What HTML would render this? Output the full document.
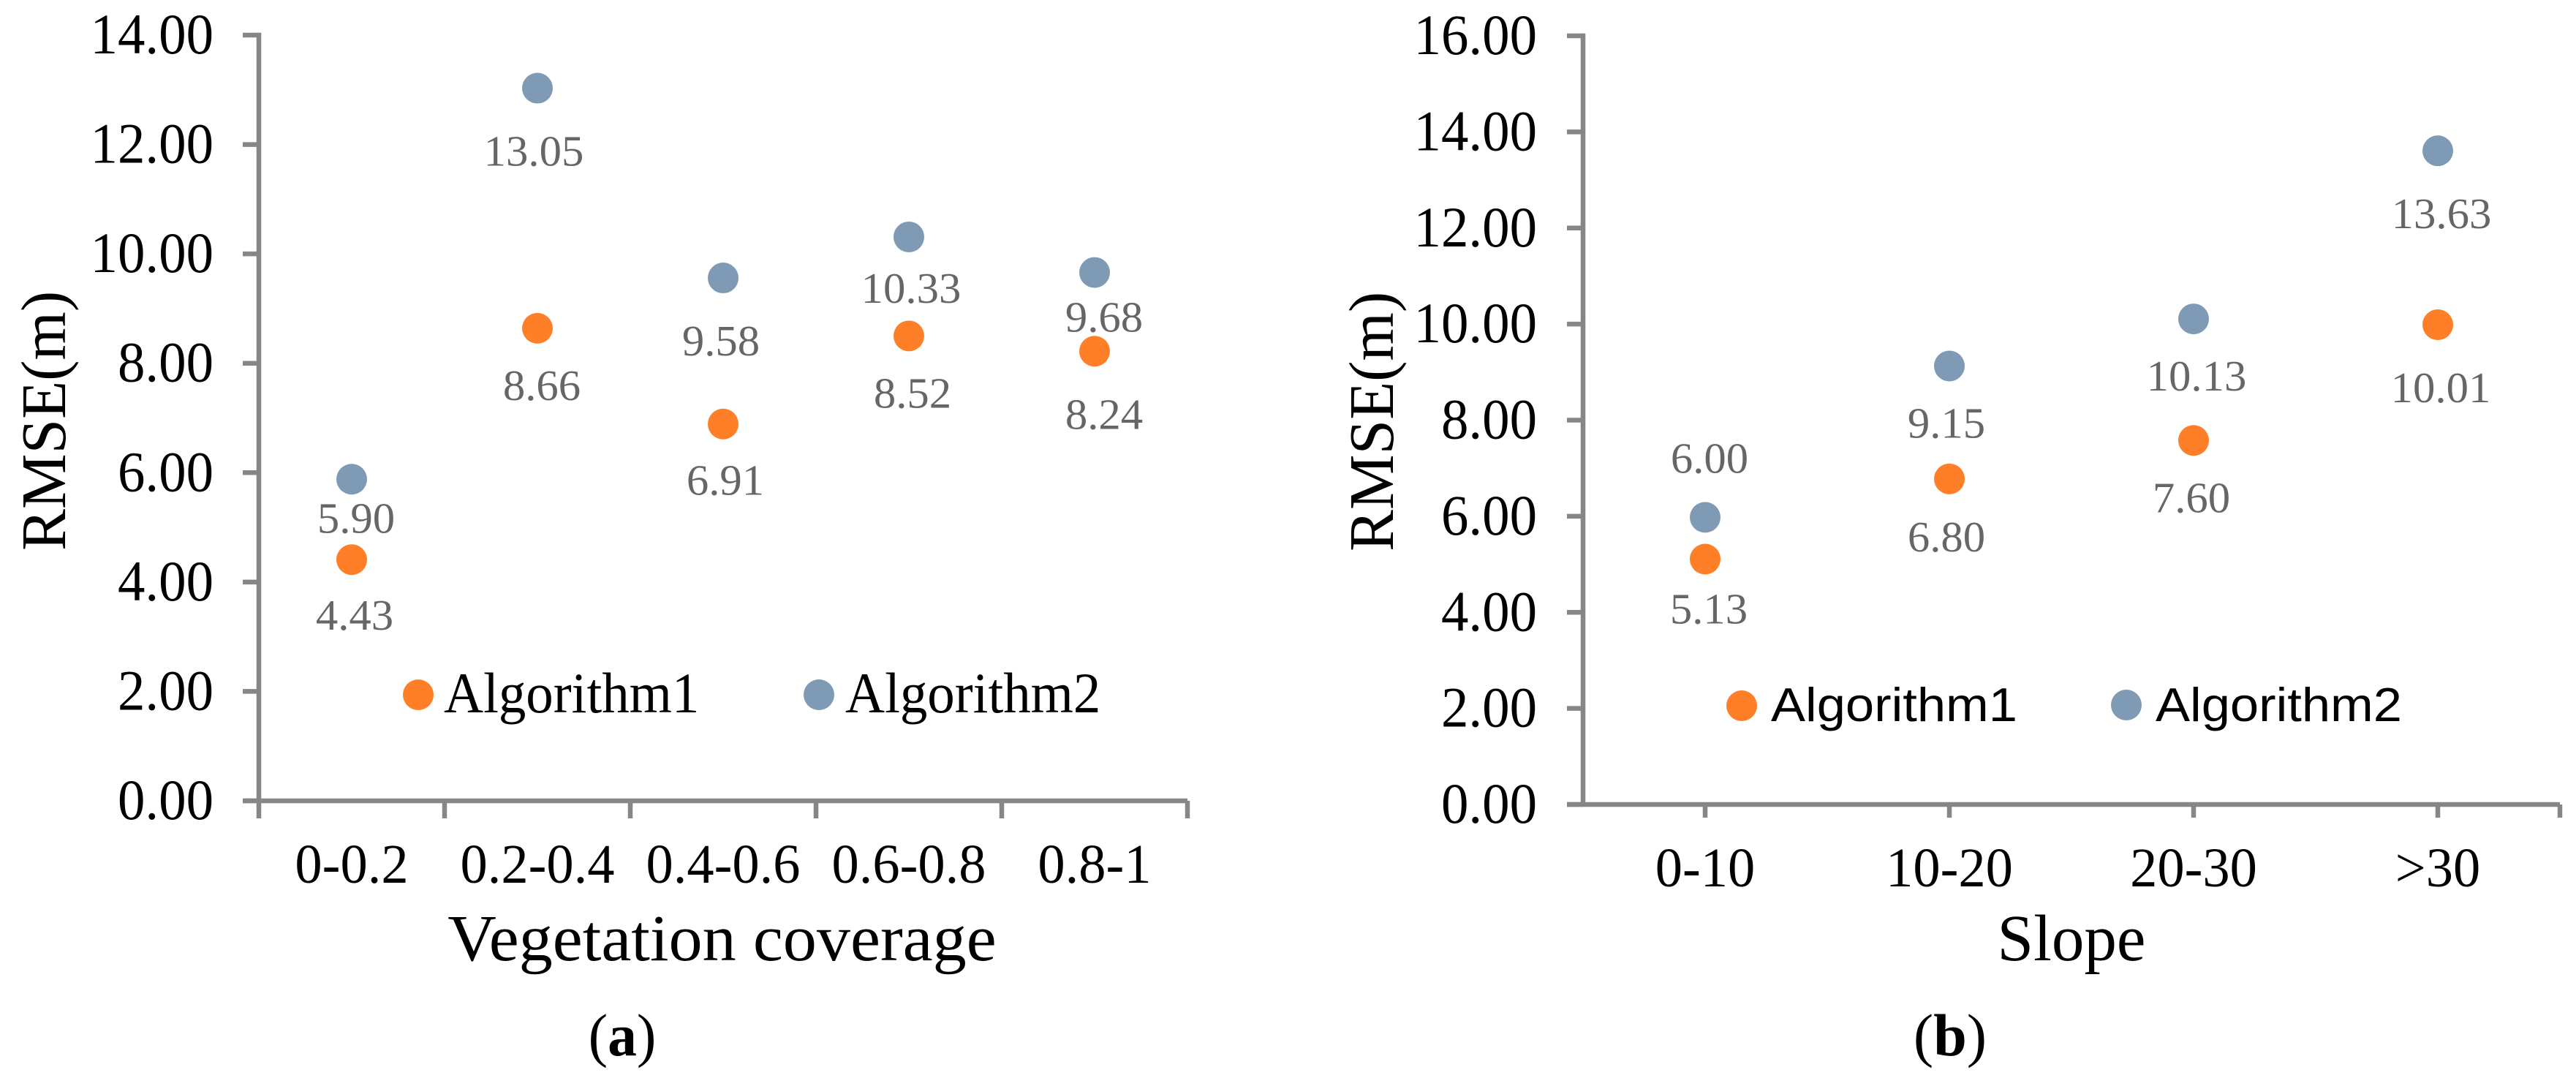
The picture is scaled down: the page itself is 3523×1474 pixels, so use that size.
<!DOCTYPE html>
<html lang="en">
<head>
<meta charset="utf-8">
<title>RMSE by vegetation coverage and slope</title>
<style>
html,body{margin:0;padding:0;background:#fff;}
svg{display:block;}
text{font-family:"Liberation Serif",serif;fill:#000;}
</style>
</head>
<body>
<svg id="figure" xmlns="http://www.w3.org/2000/svg" width="3523" height="1474" viewBox="0 0 3523 1474">
  <rect x="0" y="0" width="3523" height="1474" fill="#ffffff"/>
  <g id="panel-a">
    <text font-size="87" transform="translate(89,753) rotate(-90) scale(0.98,1)">RMSE(m)</text>
    <text font-size="90" text-anchor="middle" transform="translate(987.5,1313) scale(1.025,1)">Vegetation coverage</text>
    <text font-size="82" text-anchor="middle" transform="translate(851,1443) scale(0.97,1)">(<tspan font-weight="bold">a</tspan>)</text>
    <circle cx="572" cy="950" r="21" fill="#FE7F27"/>
    <text font-size="78" transform="translate(607,974) scale(0.96,1)">Algorithm1</text>
    <circle cx="1120" cy="950" r="21" fill="#7F9AB5"/>
    <text font-size="78" transform="translate(1156,974) scale(0.96,1)">Algorithm2</text>
  </g>
  <g id="panel-b">
    <text font-size="87" transform="translate(1905,754) rotate(-90) scale(0.98,1)">RMSE(m)</text>
    <text font-size="90" text-anchor="middle" transform="translate(2833,1313) scale(0.99,1)">Slope</text>
    <text font-size="82" text-anchor="middle" transform="translate(2667,1443)">(<tspan font-weight="bold">b</tspan>)</text>
    <circle cx="2382" cy="965" r="21" fill="#FE7F27"/>
    <text font-size="65" style="font-family:'Liberation Sans',sans-serif" transform="translate(2422,986) scale(1.085,1)">Algorithm1</text>
    <circle cx="2908" cy="964" r="21" fill="#7F9AB5"/>
    <text font-size="65" style="font-family:'Liberation Sans',sans-serif" transform="translate(2948,986) scale(1.085,1)">Algorithm2</text>
  </g>
</svg>
<script>
// ---- chart data ----
const vegetationCategories = ['0-0.2', '0.2-0.4', '0.4-0.6', '0.6-0.8', '0.8-1'];
const vegetationAlgorithm1 = [4.43, 8.66, 6.91, 8.52, 8.24];
const vegetationAlgorithm2 = [5.90, 13.05, 9.58, 10.33, 9.68];
const vegetationTickValues = [0, 2, 4, 6, 8, 10, 12, 14];

const slopeCategories = ['0-10', '10-20', '20-30', '>30'];
const slopeAlgorithm1 = [5.13, 6.80, 7.60, 10.01];
const slopeAlgorithm2 = [6.00, 9.15, 10.13, 13.63];
const slopeTickValues = [0, 2, 4, 6, 8, 10, 12, 14, 16];

// ---- layout (not data): hand-placed label nudges relative to each marker ----
const NUDGE_A1 = [[4, 96], [6, 98], [3, 97], [5, 98], [13, 106]];
const NUDGE_A2 = [[6, 73], [-5, 106], [-3, 106], [3, 90], [13, 81]];
const NUDGE_B1 = [[5, 88], [-4, 99], [-3, 98], [4, 106]];
const NUDGE_B2 = [[6, -61], [-4, 98], [4, 98], [5, 106]];

const NS = 'http://www.w3.org/2000/svg';
const AXIS_COLOR = '#868686';
const AXIS_WIDTH = 6.5;
const LABEL_COLOR = '#666666';
const ORANGE = '#FE7F27';
const BLUE = '#7F9AB5';
const MARKER_RADIUS = 21;
const MARKER_SHIFT = 1.5;

function svgEl(parent, tag) {
  const el = document.createElementNS(NS, tag);
  parent.appendChild(el);
  return el;
}

function makeLine(parent, x1, y1, x2, y2) {
  const el = svgEl(parent, 'line');
  el.setAttribute('x1', x1);
  el.setAttribute('y1', y1);
  el.setAttribute('x2', x2);
  el.setAttribute('y2', y2);
  el.setAttribute('stroke', AXIS_COLOR);
  el.setAttribute('stroke-width', AXIS_WIDTH);
  return el;
}

function makeText(parent, str, x, y, size, anchor, sx, color) {
  const el = svgEl(parent, 'text');
  el.textContent = str;
  el.setAttribute('font-size', size);
  el.setAttribute('text-anchor', anchor);
  el.setAttribute('transform', 'translate(' + x + ',' + y + ') scale(' + sx + ',1)');
  el.style.fill = color;
  return el;
}

function drawPanel(p) {
  const root = document.getElementById(p.id);
  const yMax = p.ticks[p.ticks.length - 1];
  const yScale = function (v) { return p.y0 - (v / yMax) * (p.y0 - p.yTop); };
  const band = (p.xRight - p.xAxis) / p.categories.length;
  const xScale = function (i) { return p.xAxis + (i + 0.5) * band; };

  // y axis
  const yAxis = makeLine(root, p.xAxis, p.yTop - AXIS_WIDTH / 2, p.xAxis, p.y0);
  
  

  p.ticks.forEach(function (t) {
    const y = yScale(t);
    const mark = makeLine(root, p.xAxis - 22, y, p.xAxis, y);
    
    
    const label = makeText(root, t.toFixed(2), p.yLabelX, y + 25, 78, 'end', 0.96, '#000000');
    
    
  });

  // x axis
  const xAxis = makeLine(root, p.xAxis - 22, p.y0, p.xRight, p.y0);
  
  

  const tickXs = [];
  if (p.ticksAtCenters) {
    p.categories.forEach(function (c, i) { tickXs.push(xScale(i)); });
    tickXs.push(p.xRight);
  } else {
    for (let i = 0; i <= p.categories.length; i++) tickXs.push(p.xAxis + i * band);
  }
  tickXs.forEach(function (x) {
    const mark = makeLine(root, x, p.y0, x, p.y0 + p.tickLen);
    
    
  });

  p.categories.forEach(function (c, i) {
    const label = makeText(root, c, xScale(i), p.xLabelY, 76, 'middle', 0.98, '#000000');
    
    
  });

  // series
  p.series.forEach(function (s) {
    s.values.forEach(function (v, i) {
      const cx = xScale(i);
      const cy = yScale(v) + MARKER_SHIFT;
      const dot = svgEl(root, 'circle');
      dot.setAttribute('cx', cx);
      dot.setAttribute('cy', cy);
      dot.setAttribute('r', MARKER_RADIUS);
      dot.setAttribute('fill', s.color);
      
      
      const label = makeText(root, v.toFixed(2), cx + s.nudge[i][0], cy + s.nudge[i][1], 59, 'middle', 1.03, LABEL_COLOR);
      
      
    });
  });
}

drawPanel({
  id: 'panel-a', prefix: 'panel-a',
  categories: vegetationCategories, ticks: vegetationTickValues,
  xAxis: 354, xRight: 1624, y0: 1095, yTop: 48,
  yLabelX: 292, xLabelY: 1207, tickLen: 24, ticksAtCenters: false,
  series: [
    { key: 'algorithm1', values: vegetationAlgorithm1, color: ORANGE, nudge: NUDGE_A1 },
    { key: 'algorithm2', values: vegetationAlgorithm2, color: BLUE, nudge: NUDGE_A2 }
  ]
});

drawPanel({
  id: 'panel-b', prefix: 'panel-b',
  categories: slopeCategories, ticks: slopeTickValues,
  xAxis: 2165, xRight: 3501, y0: 1100, yTop: 49,
  yLabelX: 2102, xLabelY: 1212, tickLen: 18, ticksAtCenters: true,
  series: [
    { key: 'algorithm1', values: slopeAlgorithm1, color: ORANGE, nudge: NUDGE_B1 },
    { key: 'algorithm2', values: slopeAlgorithm2, color: BLUE, nudge: NUDGE_B2 }
  ]
});
</script>
</body>
</html>
